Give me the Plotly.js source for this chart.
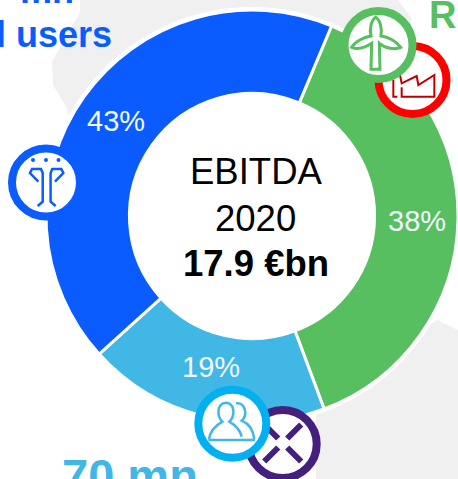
<!DOCTYPE html>
<html><head><meta charset="utf-8">
<script src="https://cdn.plot.ly/plotly-3.0.1.min.js"></script>
<style>html,body{margin:0;padding:0;background:#fff;overflow:hidden}#c{width:458px;height:479px}</style>
</head><body><div id="c"></div>
<script>
const categories = ['Renewables', 'Customers', 'Networks'];
const values = [38, 19, 43];
const sliceColors = ['#57BF60', '#41B7E6', '#0A5CFF'];

const W = 458, H = 479;
const FONT = '"Liberation Sans", Arial, sans-serif';
const fx = x => x / W, fy = y => 1 - y / H;
// convert "x,y" pairs in a pixel-based path to paper coordinates
function path(d, ox = 0, oy = 0, s = 1) {
  return d.replace(/(-?[\d.]+),(-?[\d.]+)/g, (m, a, b) =>
    fx(ox + s * parseFloat(a)) + ',' + fy(oy + s * parseFloat(b)));
}
function pathShape(d, opt) {
  return Object.assign({type: 'path', xref: 'paper', yref: 'paper', path: d, line: {width: 0}}, opt);
}
function circle(cx, cy, r, fill, lineColor, lw, layer) {
  return {type: 'circle', xref: 'paper', yref: 'paper', layer: layer || 'above',
    x0: fx(cx - r), x1: fx(cx + r), y0: fy(cy + r), y1: fy(cy - r),
    fillcolor: fill, line: {color: lineColor || fill, width: lw || 0}};
}
function stroke(d, color, w, ox, oy, s) {
  return pathShape(path(d, ox, oy, s), {layer: 'above', fillcolor: 'rgba(0,0,0,0)', line: {color: color, width: w}});
}
const GRAY = '#F0F0F0';
const shapes = [
  pathShape(path('M80,0 L80,12 L52,62 L53,85 L67,108 L70,125 L250,125 L410,60 L411,18 L398,0 Z'),
    {layer: 'below', fillcolor: GRAY}),
  pathShape(path('M316,479 L316,400 L437,320 L458,330 L458,479 Z'), {layer: 'below', fillcolor: GRAY}),
  circle(252, 216, 209, '#FFFFFF', '#FFFFFF', 0, 'below'),

  // purple icon
  circle(282.7, 444, 34, '#FFFFFF', '#451F7E', 8),
  stroke('M-18.5,-18.5 L-4.5,-4.5 M18.5,-18.5 L4.5,-4.5 M-18.5,18.5 L-4.5,4.5 M18.5,18.5 L4.5,4.5', '#451F7E', 6, 282.7, 443, 1),
  // cyan icon
  circle(232.3, 423.7, 34, '#FFFFFF', '#00B0F0', 8),
  stroke('M55,180 L195,180 M57,178 C60,150 85,132 97,125 C80,108 80,70 108,68 C135,70 136,108 118,125 C135,135 150,150 155,170 M138,70 C165,65 175,105 155,122 C175,130 190,150 193,178',
    '#41B7E6', 2.5, 190, 380, 1 / 3),
  // blue icon
  circle(46, 182.5, 34, '#FFFFFF', '#0A5CFF', 8),
  circle(33, 160, 2, '#0A5CFF'), circle(46, 160, 2, '#0A5CFF'), circle(58.5, 160, 2, '#0A5CFF'),
  stroke('M38.3,181.7 L30,173 L32,169 L41,169 L42.7,173 L42.7,201.7 L37.7,206', '#0A5CFF', 2.5),
  stroke('M55,181.7 L63.3,173 L61.3,169 L52.3,169 L50.6,173 L50.6,201.7 L55.6,206', '#0A5CFF', 2.5),
  // red icon
  circle(412.5, 80, 34, '#FFFFFF', '#FF0000', 8),
  stroke('M200,262 L200,290 L298,290 L298,225 L250,255 L245,228 L200,250 L195,225 M187,290 L175,290 L175,240',
    '#C00000', 2, 335, 0, 1 / 3),
  // green icon
  circle(378.5, 45, 34, '#FFFFFF', '#57BF60', 8),
  stroke('M122,52 C110,60 102,85 108,108 C85,112 60,125 50,142 C70,150 95,140 110,130 L108,208 L135,208 L133,130 C150,145 180,150 197,142 C185,125 160,110 138,108 C142,85 135,60 122,52 Z',
    '#57BF60', 3, 335, 0, 1 / 3)
];

function ann(text, x, y, size, color, xanchor, bold, yanchor) {
  return {xref: 'paper', yref: 'paper', x: fx(x), y: fy(y), xanchor: xanchor || 'center', yanchor: yanchor || 'middle',
    showarrow: false, text: bold ? '<b>' + text + '</b>' : text,
    font: {family: FONT, size: size, color: color}, borderpad: 0, borderwidth: 0};
}
const labelSpots = [[417, 221], [211, 367], [116, 121]];
const annotations = [
  ann('EBITDA', 255.5, 171.5, 36.5, '#000000'),
  ann('2020', 255.5, 218.5, 36.5, '#000000'),
  ann('17.9 €bn', 255.5, 263.5, 36.5, '#000000', 'center', true),
  ann('mn', 74, 11, 36, '#0A5CFF', 'right', true, 'bottom'),
  ann('Final users', 112, 35, 36, '#0A5CFF', 'right', true),
  ann('RES', 429, 15, 38, '#57BF60', 'left', true),
  ann('70 mn', 62, 475, 47, '#41B7E6', 'left', true)
].concat(values.map((v, i) => ann(v + '%', labelSpots[i][0], labelSpots[i][1], 29, '#F2F8FF')));

Plotly.newPlot('c', [{
  type: 'pie', labels: categories, values: values, hole: 0.595, sort: false,
  direction: 'clockwise', rotation: 22.7,
  marker: {colors: sliceColors, line: {color: '#FFFFFF', width: 3}},
  textinfo: 'none',
  domain: {x: [fx(46), fx(458)], y: [fy(422), fy(10)]},
  hoverinfo: 'none'
}], {
  width: W, height: H, margin: {l: 0, r: 0, t: 0, b: 0}, showlegend: false,
  paper_bgcolor: '#FFFFFF', plot_bgcolor: '#FFFFFF',
  shapes: shapes, annotations: annotations
}, {staticPlot: true, displayModeBar: false});
</script></body></html>
